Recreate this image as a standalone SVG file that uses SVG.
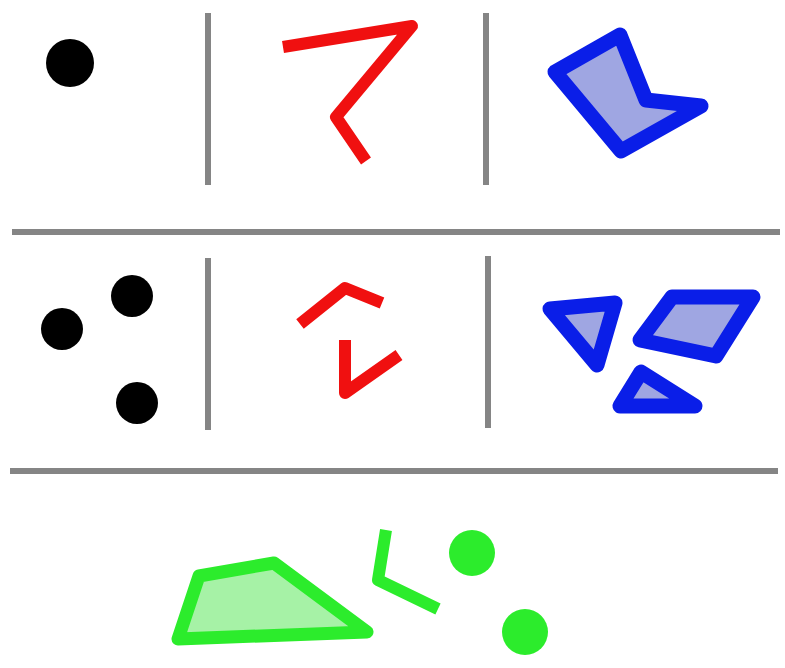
<svg xmlns="http://www.w3.org/2000/svg" width="785" height="668" viewBox="0 0 785 668">
<style>
.sep{stroke:#858585;stroke-width:6;fill:none}
.dot{fill:#000}
.red{fill:none;stroke:#f01010;stroke-width:12;stroke-linejoin:round}
.blue{fill:#9fa6e2;stroke:#0a1ee8;stroke-width:15;stroke-linejoin:round}
.gpoly{fill:#a6f2a6;stroke:#2cec2c;stroke-width:13;stroke-linejoin:round}
.gline{fill:none;stroke:#2cec2c;stroke-width:12;stroke-linejoin:round}
.gdot{fill:#2cec2c}
</style>
<rect width="785" height="668" fill="#fff"/>
<g id="separators">
<line class="sep" x1="208" y1="13" x2="208" y2="185"/>
<line class="sep" x1="486" y1="13" x2="486" y2="185"/>
<line class="sep" x1="12" y1="232" x2="780" y2="232"/>
<line class="sep" x1="208" y1="258" x2="208" y2="430"/>
<line class="sep" x1="488" y1="256" x2="488" y2="428"/>
<line class="sep" x1="10" y1="471" x2="778" y2="471"/>
</g>
<g id="point-top"><circle class="dot" cx="70" cy="63" r="24"/></g>
<g id="line-top"><polyline class="red" points="283,47 412,26 336,117 366,161"/></g>
<g id="polygon-top"><polygon class="blue" points="555,72 620,35 646,100 701,106 621,151"/></g>
<g id="multipoint">
<circle class="dot" cx="132" cy="296" r="21"/>
<circle class="dot" cx="62" cy="329" r="21"/>
<circle class="dot" cx="137" cy="403" r="21"/>
</g>
<g id="multiline">
<polyline class="red" points="300,324 345,288 382,303"/>
<polyline class="red" points="345,340 345,393 399,355"/>
</g>
<g id="multipolygon">
<polygon class="blue" points="550,309 615,303 597,365"/>
<polygon class="blue" points="672,297 753,297 716,356 640,340"/>
<polygon class="blue" points="641,372 620,406 695,406"/>
</g>
<g id="collection">
<polygon class="gpoly" points="199,576 274,563 367,632 178,639"/>
<polyline class="gline" points="386,530 378,580 438,609"/>
<circle class="gdot" cx="472" cy="553" r="23"/>
<circle class="gdot" cx="525" cy="632" r="23"/>
</g>
</svg>
